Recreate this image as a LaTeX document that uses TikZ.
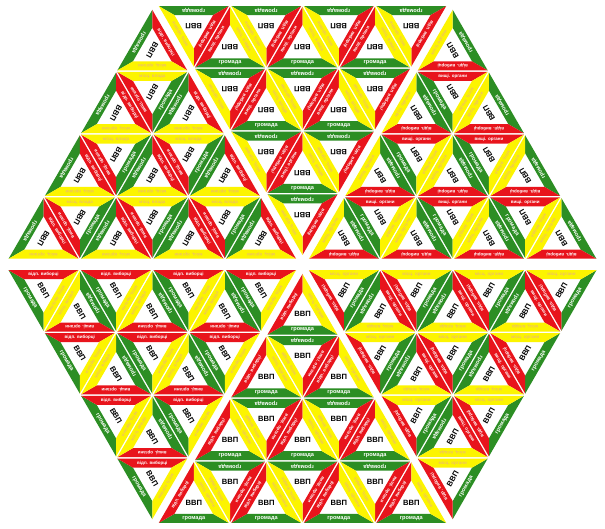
\documentclass[tikz,border=0pt]{standalone}
\usepackage{fontspec}
\setmainfont{Liberation Sans}
\definecolor{grn}{RGB}{44,142,36}
\definecolor{rd}{RGB}{232,20,28}
\definecolor{yl}{RGB}{252,244,0}
\definecolor{yltext}{RGB}{238,192,100}
\def\A{72.5}
\def\H{62.79}
\def\D{6}
\def\Ro{40.36}
\def\Ri{22.36}
\def\Rm{15.68}
\tikzset{
  band/.style={draw=none},
  gtxt/.style={inner sep=0pt,text=white,font=\fontsize{5.6}{5.6}\selectfont\bfseries,transform shape},
  rtxt/.style={inner sep=0pt,text=white,font=\fontsize{4.5}{4.5}\selectfont\bfseries,transform shape},
  ytxt/.style={inner sep=0pt,text=yltext,font=\fontsize{4.5}{4.5}\selectfont\bfseries,transform shape},
  vtxt/.style={inner sep=0pt,text=black,font=\fontsize{7.6}{7.6}\selectfont\bfseries,transform shape}
}
% #1 x, #2 y, #3 rotation, #4 red text, #5 yellow text, #6 name prefix
\newcommand\mytile[6]{%
  \begin{scope}[shift={(#1,#2)}]
    \node[vtxt] (#6v) at (0,0) {ВВП};
    \begin{scope}[rotate=#3]
      \fill[grn,band] (210:\Ro) -- (330:\Ro) -- (330:\Ri) -- (210:\Ri) -- cycle;
      \fill[rd,band] (90:\Ro) -- (210:\Ro) -- (210:\Ri) -- (90:\Ri) -- cycle;
      \fill[yl,band] (90:\Ro) -- (330:\Ro) -- (330:\Ri) -- (90:\Ri) -- cycle;
      \node[gtxt] (#6g) at (270:\Rm) {громада};
      \node[rtxt,rotate=60] (#6r) at (150:\Rm) {#4};
      \node[ytxt,rotate=-60] (#6y) at (30:\Rm) {#5};
    \end{scope}
  \end{scope}}
\begin{document}
\begin{tikzpicture}[x=1pt,y=1pt]
\useasboundingbox (0,0) rectangle (605,529);
\fill[white] (0,0) rectangle (605,529);
\begin{scope}[shift={(302.5,264.5)}]
\foreach \r in {0,60,...,300}{
  \pgfmathsetmacro\vs{ifthenelse(and(\r>90,\r<270),2,-2)}
  \begin{scope}[yshift=\vs pt,rotate=\r]
  \foreach \i in {0,1,2,3}{
    \foreach \j in {0,...,\i}{
      \pgfmathsetmacro\ux{-\i*\A/2+\j*\A}
      \pgfmathsetmacro\uy{-\D-\i*\H-2*\H/3}
      \mytile{\ux}{\uy}{0}{відп. виборці}{місц. органи}{u\r-\i-\j}
    }
    \ifnum\i>0
      \foreach \j in {1,...,\i}{
        \pgfmathsetmacro\dx{-\i*\A/2+\j*\A-\A/2}
        \pgfmathsetmacro\dy{-\D-\i*\H-\H/3}
        \mytile{\dx}{\dy}{180}{вищі. органи}{місц. влада}{d\r-\i-\j}
      }
    \fi
  }
  \end{scope}
}
\end{scope}
\end{tikzpicture}
\end{document}
